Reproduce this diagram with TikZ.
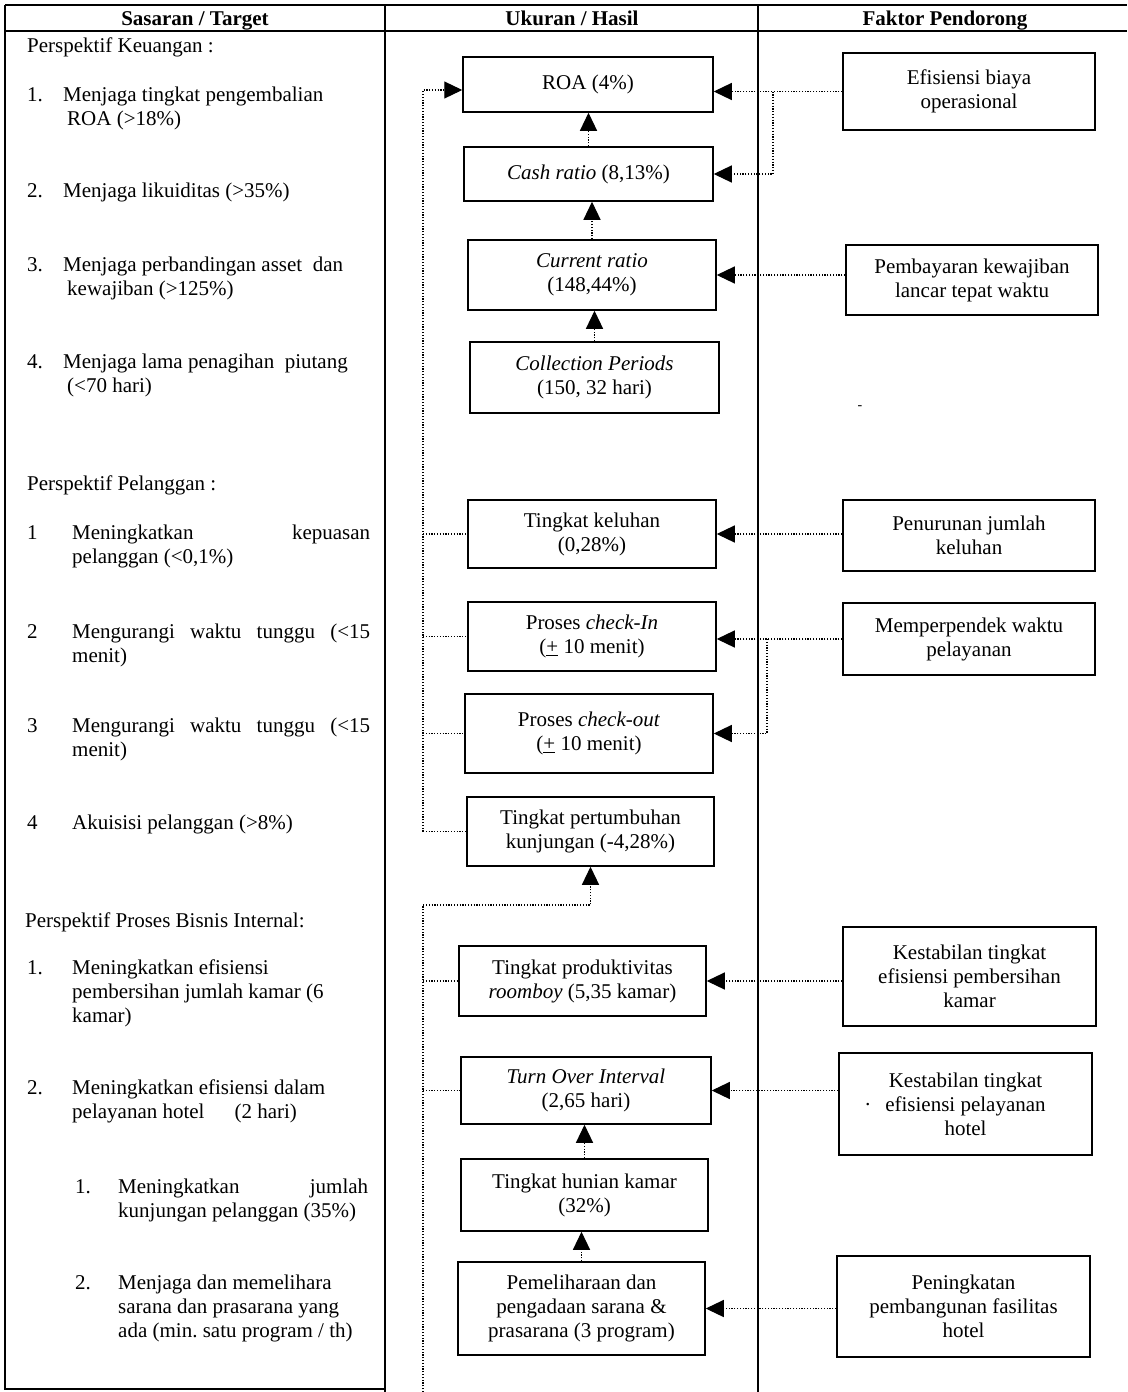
\documentclass[tikz,border=0pt]{standalone}
\usepackage{fontspec}
\setmainfont{Liberation Serif}
\usetikzlibrary{arrows.meta}
\begin{document}
\frenchspacing
\begin{tikzpicture}[x=1pt,y=-1pt,
  every node/.style={font=\fontsize{21}{24}\selectfont},
  gridline/.style={line width=1.1pt},
  mbox/.style={draw, line width=1.5pt, align=center, inner sep=0pt},
  dotline/.style={line width=1.2pt, dash pattern=on 1.2pt off 1.6pt},
  tip/.style={-{Triangle[length=18pt,width=17pt]}},
  txt/.style={anchor=base west, inner sep=0pt, align=flush left, text width=310pt},
  num/.style={anchor=base west, inner sep=0pt},
  hdr/.style={font=\fontsize{21}{24}\selectfont\bfseries, anchor=base, inner sep=0pt},
]
\useasboundingbox (0,0) rectangle (1127,1392);

% table frame
\draw[gridline] (5,5) -- (1127,5);
\draw[gridline] (5,31) -- (1127,31);
\draw[gridline] (5,5) -- (5,1389) -- (385,1389);
\draw[gridline] (385,5) -- (385,1392);
\draw[gridline] (758,5) -- (758,1392);

\node[hdr] (h1) at (195,25) {Sasaran / Target};
\node[hdr] (h2) at (572,25) {Ukuran / Hasil};
\node[hdr] (h3) at (945,25) {Faktor Pendorong};

% targets
\node[num] (k0) at (27,52) {Perspektif Keuangan :};
\node[num] (k1n) at (27,101) {1.};
\node[txt] (k1) at (63,101) {Menjaga tingkat pengembalian\\\hspace*{4pt}ROA (>18\%)};
\node[num] (k2n) at (27,197) {2.};
\node[txt] (k2) at (63,197) {Menjaga likuiditas (>35\%)};
\node[num] (k3n) at (27,271) {3.};
\node[txt] (k3) at (63,271) {Menjaga perbandingan asset\ \ dan\\\hspace*{4pt}kewajiban (>125\%)};
\node[num] (k4n) at (27,368) {4.};
\node[txt] (k4) at (63,368) {Menjaga lama penagihan\ \ piutang\\\hspace*{4pt}(<70 hari)};

\node[num] (p0) at (27,490) {Perspektif Pelanggan :};
\node[num] (p1n) at (27,539) {1};
\node[txt] (p1) at (72,539) {\hbox to 298pt{Meningkatkan\hfill kepuasan}\\pelanggan (<0,1\%)};
\node[num] (p2n) at (27,638) {2};
\node[txt] (p2) at (72,638) {\hbox to 298pt{Mengurangi\hfill waktu\hfill tunggu\hfill (<15}\\menit)};
\node[num] (p3n) at (27,732) {3};
\node[txt] (p3) at (72,732) {\hbox to 298pt{Mengurangi\hfill waktu\hfill tunggu\hfill (<15}\\menit)};
\node[num] (p4n) at (27,829) {4};
\node[txt] (p4) at (72,829) {Akuisisi pelanggan (>8\%)};

\node[num] (b0) at (25,927) {Perspektif Proses Bisnis Internal:};
\node[num] (b1n) at (27,974) {1.};
\node[txt] (b1) at (72,974) {Meningkatkan efisiensi\\pembersihan jumlah kamar (6\\kamar)};
\node[num] (b2n) at (27,1094) {2.};
\node[txt] (b2) at (72,1094) {Meningkatkan efisiensi dalam\\pelayanan hotel\hspace{30pt}(2 hari)};
\node[num] (b3n) at (75,1193) {1.};
\node[txt, text width=260pt] (b3) at (118,1193) {\hbox to 250pt{Meningkatkan\hfill jumlah}\\kunjungan pelanggan (35\%)};
\node[num] (b4n) at (75,1289) {2.};
\node[txt, text width=260pt] (b4) at (118,1289) {Menjaga dan memelihara\\sarana dan prasarana yang\\ada (min. satu program / th)};

% measures
\node[mbox, minimum width=250, minimum height=55] (roa) at (588,84.5) {ROA (4\%)};
\node[mbox, minimum width=249, minimum height=54] (cash) at (588.5,174) {\textit{Cash ratio} (8,13\%)};
\node[mbox, minimum width=248, minimum height=70] (cr) at (592,275) {\textit{Current ratio}\\(148,44\%)};
\node[mbox, minimum width=249, minimum height=71] (col) at (594.5,377.5) {\textit{Collection Periods}\\(150, 32 hari)};
\node[mbox, minimum width=248, minimum height=68] (kel) at (592,534) {Tingkat keluhan\\(0,28\%)};
\node[mbox, minimum width=248, minimum height=69] (cin) at (592,636.5) {Proses \textit{check-In}\\(\underline{+} 10 menit)};
\node[mbox, minimum width=248, minimum height=79] (cout) at (589,733.5) {Proses \textit{check-out}\\(\underline{+} 10 menit)};
\node[mbox, minimum width=247, minimum height=69] (grow) at (590.5,831.5) {Tingkat pertumbuhan\\kunjungan (-4,28\%)};
\node[mbox, minimum width=247, minimum height=70] (room) at (582.5,981) {Tingkat produktivitas\\\textit{roomboy} (5,35 kamar)};
\node[mbox, minimum width=250, minimum height=67] (toi) at (586,1090.5) {\textit{Turn Over Interval}\\(2,65 hari)};
\node[mbox, minimum width=247, minimum height=72] (hun) at (584.5,1195) {Tingkat hunian kamar\\(32\%)};
\node[mbox, minimum width=247, minimum height=93] (pem) at (581.5,1308.5) {Pemeliharaan dan\\pengadaan sarana \&\\prasarana (3 program)};

% drivers
\node[mbox, minimum width=252, minimum height=77] (r1) at (969,91.5) {Efisiensi biaya\\operasional};
\node[mbox, minimum width=252, minimum height=70] (r2) at (972,280) {Pembayaran kewajiban\\lancar tepat waktu};
\node[mbox, minimum width=252, minimum height=71] (r3) at (969,535.5) {Penurunan jumlah\\keluhan};
\node[mbox, minimum width=252, minimum height=72] (r4) at (969,639) {Memperpendek waktu\\pelayanan};
\node[mbox, minimum width=253, minimum height=99] (r5) at (969.5,976.5) {Kestabilan tingkat\\efisiensi pembersihan\\kamar};
\node[mbox, minimum width=253, minimum height=102] (r6) at (965.5,1104) {Kestabilan tingkat\\\llap{\textperiodcentered\hspace{14pt}}efisiensi pelayanan\\hotel};
\node[mbox, minimum width=253, minimum height=101] (r7) at (963.5,1306.5) {Peningkatan\\pembangunan fasilitas\\hotel};
\node[inner sep=0pt, font=\fontsize{14}{14}\selectfont] (mark) at (860,408) {-};

% links between measures
\draw[dotline, tip] (cash.north) -- (cash.north |- roa.south);
\draw[dotline, tip] (cr.north) -- (cr.north |- cash.south);
\draw[dotline, tip] (col.north) -- (col.north |- cr.south);
\draw[dotline, tip] (hun.north) -- (hun.north |- toi.south);
\draw[dotline, tip] (pem.north) -- (pem.north |- hun.south);

% left bus: customer measures up to ROA
\coordinate (ltop) at (423,90);
\draw[dotline, tip] (ltop |- grow.west) -- (ltop) -- (ltop -| roa.west);
\draw[dotline] (ltop |- kel.west) -- (kel.west);
\draw[dotline] (ltop |- cin.west) -- (cin.west);
\draw[dotline] (ltop |- cout.west) -- (cout.west);
\draw[dotline] (ltop |- grow.west) -- (grow.west);

% left bus: internal process measures up to growth
\coordinate (lmid) at (423,905);
\coordinate (lbot) at (423,1392);
\draw[dotline, tip] (lbot) -- (lmid) -| (grow.south);
\draw[dotline] (lmid |- room.west) -- (room.west);
\draw[dotline] (lmid |- toi.west) -- (toi.west);

% drivers into measures
\coordinate (j1) at (773,91.5);
\draw[dotline, tip] (r1.west) -- (r1.west -| roa.east);
\draw[dotline, tip] (j1) |- (cash.east);
\draw[dotline, tip] (cr.east -| r2.west) -- (cr.east);
\draw[dotline, tip] (kel.east -| r3.west) -- (kel.east);
\coordinate (j2) at (767,639);
\draw[dotline, tip] (r4.west) -- (r4.west -| cin.east);
\draw[dotline, tip] (j2) |- (cout.east);
\draw[dotline, tip] (room.east -| r5.west) -- (room.east);
\draw[dotline, tip] (toi.east -| r6.west) -- (toi.east);
\draw[dotline, tip] (pem.east -| r7.west) -- (pem.east);
\end{tikzpicture}
\end{document}
